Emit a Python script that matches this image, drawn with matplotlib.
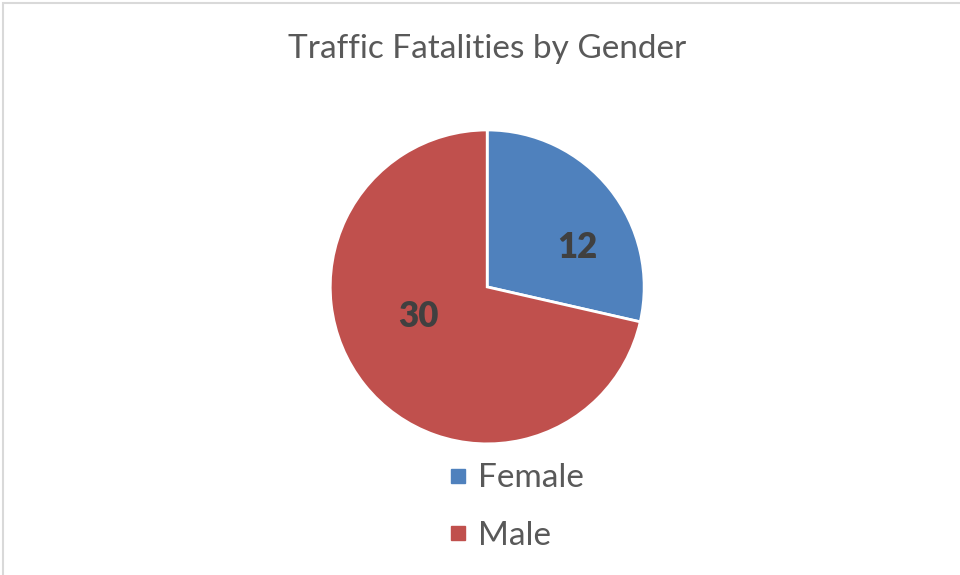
import matplotlib
matplotlib.use("Agg")
import matplotlib.pyplot as plt
from matplotlib.lines import Line2D
from matplotlib.patches import Rectangle
import numpy as np

categories = ["Female", "Male"]
values = [12, 30]
colors = ["#4F81BD", "#C0504D"]
title = "Traffic Fatalities by Gender"

plt.rcParams['font.family'] = ['Lato', 'DejaVu Sans']

fig = plt.figure(figsize=(9.6, 5.75), dpi=100)
fig.patch.set_facecolor("white")
fig.add_artist(Rectangle((0.003, -0.1), 1.2, 1.095, transform=fig.transFigure,
                         fill=False, edgecolor="#D9D9D9", linewidth=1.5))

ax = fig.add_axes([0.344, 0.228, 0.327, 0.546])
wedges, _ = ax.pie(values, colors=colors, startangle=90, counterclock=False,
                   radius=1.0, wedgeprops=dict(edgecolor="white", linewidth=2))
ax.set_xlim(-1.0, 1.0)
ax.set_ylim(-1.0, 1.0)
ax.set_aspect("equal")
ax.axis("off")

# data labels (Excel best-fit placement)
label_pos = [(0.573, 0.248), (-0.44, -0.19)]
for v, (x, y) in zip(values, label_pos):
    ax.text(x, y, str(v), ha="center", va="center", fontsize=25,
            fontweight="heavy", color="#404040")

fig.text(0.507, 0.915, title, ha="center", va="center", fontsize=24, color="#595959")

handles = [Line2D([0], [0], marker="s", linestyle="none", markersize=10,
                  markerfacecolor=c, markeredgecolor=c) for c in colors]
leg = fig.legend(handles, categories, loc="center", bbox_to_anchor=(0.537, 0.118),
                 frameon=False, fontsize=24, labelspacing=0.82, handletextpad=0.3,
                 handlelength=0.6, borderpad=0)
for t in leg.get_texts():
    t.set_color("#595959")

fig.savefig("out.png", dpi=100, facecolor="white")
